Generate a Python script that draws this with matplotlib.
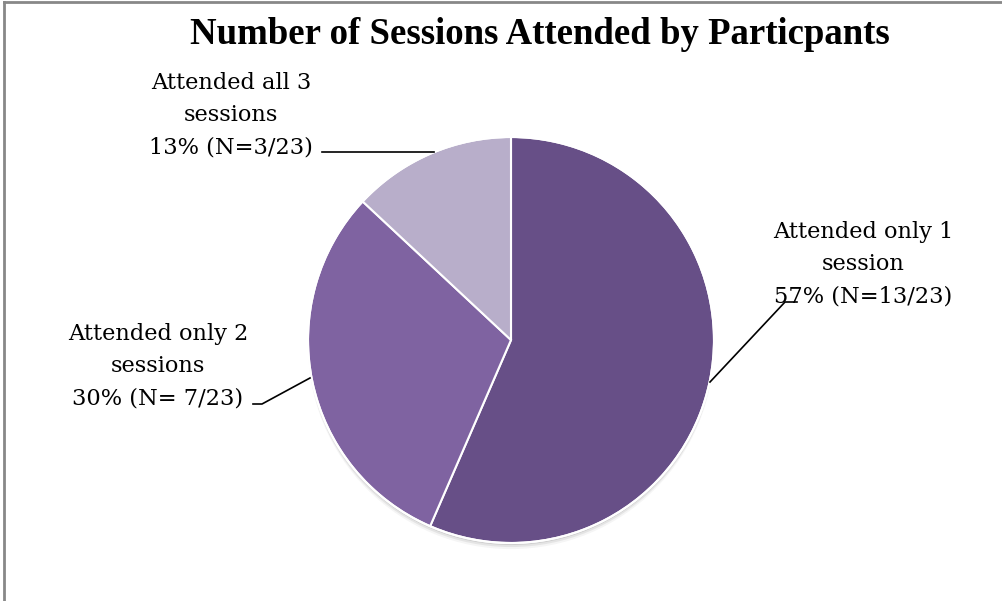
import matplotlib.pyplot as plt
from matplotlib.lines import Line2D
from matplotlib.patches import Circle

# 数据
categories = ["Attended only 1\nsession", "Attended only 2\nsessions", "Attended all 3\nsessions"]
counts = [13, 7, 3]
pct_labels = ["57% (N=13/23)", "30% (N= 7/23)", "13% (N=3/23)"]
colors = ["#674F87", "#7F63A1", "#B8AECA"]

W, H = 1003, 601
fig = plt.figure(figsize=(W / 100, H / 100), dpi=100)

# 饼图位置 (像素)
cx, cy, r = 511, 340, 203
ax = fig.add_axes([(cx - r) / W, (H - cy - r) / H, 2 * r / W, 2 * r / H])
# 轻微阴影
for dy, a in [(-0.03, 0.06), (-0.02, 0.1), (-0.01, 0.15)]:
    ax.add_patch(Circle((0, dy), 1.0, color="#555555", alpha=a, lw=0, zorder=0))
ax.pie(counts, colors=colors, startangle=90, counterclock=False,
       wedgeprops=dict(edgecolor="white", linewidth=1.5, zorder=2))
ax.add_patch(Circle((0, 0), 1.0, fill=False, edgecolor="white", lw=1.5, zorder=3))
ax.set_xlim(-1, 1)
ax.set_ylim(-1, 1)
ax.set_aspect("equal")
ax.axis("off")
for p in ax.patches:
    p.set_clip_on(False)

def px(x, y):
    return x / W, 1 - y / H

# 标题
fig.text(*px(540, 34), "Number of Sessions Attended by Particpants",
         ha="center", va="center", fontsize=26.5, fontweight="bold",
         family="Liberation Serif")

# 标签
label_pos = [(863, 264), (158, 366), (231, 115)]
for cat, pct, (x, y) in zip(categories, pct_labels, label_pos):
    fig.text(*px(x, y), cat + "\n" + pct, ha="center", va="center",
             fontsize=16.2, family="DejaVu Serif", linespacing=1.6)

# 引线
leaders = [
    [(710, 382), (785, 302), (797, 302)],
    [(310, 378), (262, 404), (253, 404)],
    [(434, 152), (322, 152)],
]
for pts in leaders:
    xs = [p[0] / W for p in pts]
    ys = [1 - p[1] / H for p in pts]
    fig.add_artist(Line2D(xs, ys, color="black", linewidth=1.2))

# 外框 (上, 左)
fig.add_artist(Line2D([4 / W, 1], [1 - 2 / H, 1 - 2 / H], color="#888888", linewidth=2))
fig.add_artist(Line2D([4 / W, 4 / W], [0, 1 - 2 / H], color="#888888", linewidth=2))

fig.savefig("out.png", dpi=100)
